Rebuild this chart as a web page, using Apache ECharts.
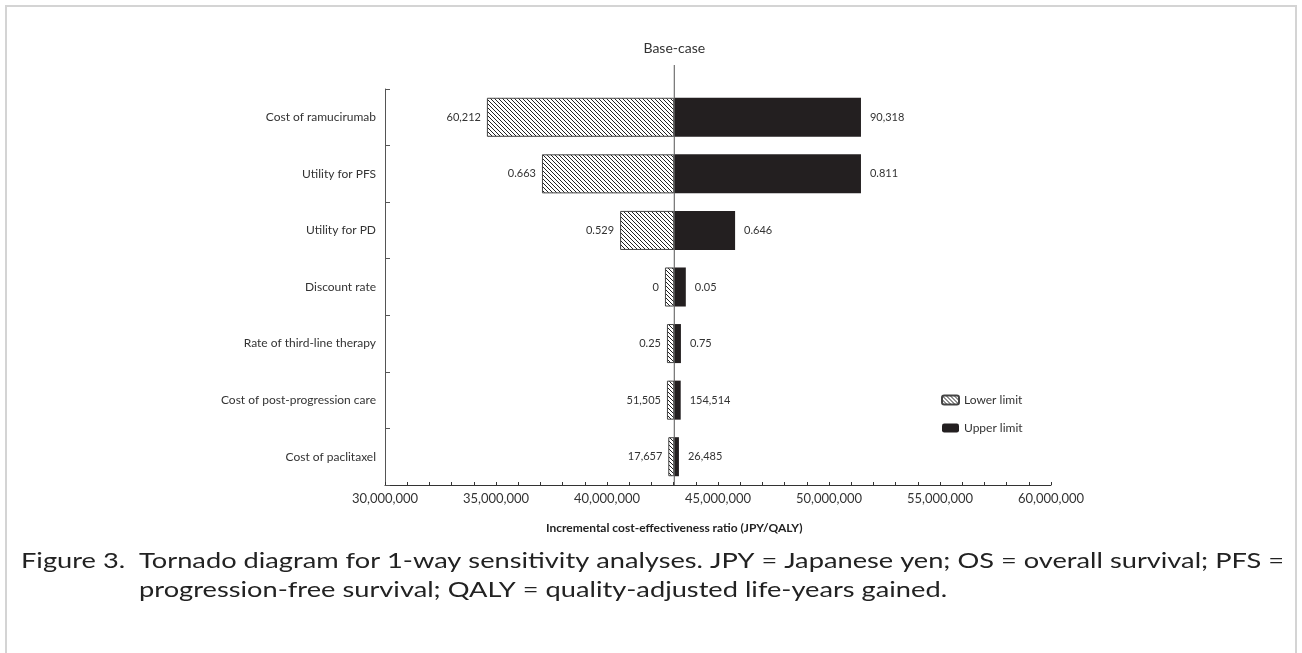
<!DOCTYPE html>
<html>
<head>
<meta charset="utf-8">
<script src="https://cdn.jsdelivr.net/npm/echarts@6/dist/echarts.min.js"></script>
<style>
  html, body { margin: 0; padding: 0; background: #fff; }
  #main { width: 1302px; height: 653px; }
</style>
</head>
<body>
<div id="main"></div>
<script>
// parameters, top to bottom
var categories = ['Cost of ramucirumab', 'Utility for PFS', 'Utility for PD', 'Discount rate',
	'Rate of third-line therapy', 'Cost of post-progression care', 'Cost of paclitaxel'];
// ICER (JPY/QALY) at lower / upper limit of each parameter
var lowIcer = [34590000, 37070000, 40590000, 42610000, 42700000, 42700000, 42760000];
var highIcer = [51440000, 51440000, 45770000, 43550000, 43330000, 43320000, 43240000];
var baseIcer = 43030000;
// parameter values printed next to the bars
var lowLabels = ['60,212', '0.663', '0.529', '0', '0.25', '51,505', '17,657'];
var highLabels = ['90,318', '0.811', '0.646', '0.05', '0.75', '154,514', '26,485'];
var xMin = 30000000, xMax = 60000000, xStep = 5000000;

var captionHead = 'Figure 3.  ';
var captionLine1 = 'Tornado diagram for 1-way sensitivity analyses. JPY = Japanese yen; OS = overall survival; PFS =';
var captionLine2 = 'progression-free survival; QALY = quality-adjusted life-years gained.';

var FONT = 'Lato';
var CAPTION_FONT = '22px ' + FONT;

function hatch() {
	var c = document.createElement('canvas');
	c.width = 4; c.height = 4;
	var ctx = c.getContext('2d');
	ctx.fillStyle = '#fff';
	ctx.fillRect(0, 0, 4, 4);
	ctx.strokeStyle = '#222';
	ctx.lineWidth = 1;
	ctx.beginPath();
	ctx.moveTo(-1, -1); ctx.lineTo(5, 5);
	ctx.moveTo(-1, 3); ctx.lineTo(1, 5);
	ctx.moveTo(3, -1); ctx.lineTo(5, 1);
	ctx.stroke();
	return c;
}

// caption font is wider than Lato: stretch it so line 1 runs to the right edge
var mctx = document.createElement('canvas').getContext('2d');
mctx.font = CAPTION_FONT;
var capLeft = 21, capRight = 1284;
var capScale = (capRight - capLeft) / mctx.measureText(captionHead + captionLine1).width;
var capIndent = capLeft + capScale * mctx.measureText(captionHead).width;

// stacked: hidden offset up to the low end, then low..base, then base..high
var offset = [], lowPart = [], highPart = [];
for (var i = 0; i < categories.length; i++) {
	offset[i] = lowIcer[i];
	lowPart[i] = baseIcer - lowIcer[i];
	highPart[i] = highIcer[i] - baseIcer;
}

var chart = echarts.init(document.getElementById('main'));
var option = {
	animation: false,
	textStyle: { fontFamily: FONT },
	grid: { left: 385, right: 251, top: 89, bottom: 168, containLabel: false },
	legend: {
		data: ['Lower limit', 'Upper limit'],
		orient: 'vertical',
		left: 936,
		top: 389,
		itemWidth: 17,
		itemHeight: 9,
		itemGap: 16,
		textStyle: { fontFamily: FONT, fontSize: 12, color: '#333' }
	},
	xAxis: {
		type: 'value',
		min: xMin,
		max: xMax,
		interval: xStep,
		axisLine: { show: true, lineStyle: { color: '#333', width: 1 } },
		axisTick: { show: true, inside: true, length: 3, lineStyle: { color: '#333' } },
		minorTick: { show: true, splitNumber: 5, length: 3, lineStyle: { color: '#333' } },
		splitLine: { show: false },
		axisLabel: {
			margin: 7,
			fontSize: 13,
			color: '#333',
			fontFamily: FONT,
			formatter: function (v) { return v.toLocaleString('en-US'); }
		}
	},
	yAxis: {
		type: 'category',
		inverse: true,
		data: categories,
		axisLine: { show: true, lineStyle: { color: '#555', width: 1 } },
		axisTick: { show: true, inside: true, length: 5, lineStyle: { color: '#555' } },
		axisLabel: { margin: 9, fontSize: 12, color: '#333', fontFamily: FONT }
	},
	series: [{
		name: 'offset',
		type: 'bar',
		stack: 'icer',
		data: offset,
		barCategoryGap: '31%',
		itemStyle: { color: 'transparent' },
		silent: true
	}, {
		name: 'Lower limit',
		type: 'bar',
		stack: 'icer',
		data: lowPart,
		itemStyle: { color: { image: hatch(), repeat: 'repeat' }, borderColor: '#444', borderWidth: 1 },
		label: {
			show: true,
			position: 'left',
			distance: 6,
			fontSize: 11,
			color: '#333',
			fontFamily: FONT,
			formatter: function (p) { return lowLabels[p.dataIndex]; }
		}
	}, {
		name: 'Upper limit',
		type: 'bar',
		stack: 'icer',
		data: highPart,
		itemStyle: { color: '#231f20' },
		label: {
			show: true,
			position: 'right',
			distance: 9,
			fontSize: 11,
			color: '#333',
			fontFamily: FONT,
			formatter: function (p) { return highLabels[p.dataIndex]; }
		}
	}]
};
chart.setOption(option);

var bx = chart.convertToPixel({ xAxisIndex: 0 }, baseIcer);

chart.setOption({
	graphic: [
		// frame
		{ type: 'line', shape: { x1: 6, y1: 6, x2: 1296, y2: 6 }, style: { stroke: '#d4d4d4', lineWidth: 2 } },
		{ type: 'line', shape: { x1: 6, y1: 5, x2: 6, y2: 653 }, style: { stroke: '#d4d4d4', lineWidth: 2 } },
		{ type: 'line', shape: { x1: 1296, y1: 5, x2: 1296, y2: 653 }, style: { stroke: '#d4d4d4', lineWidth: 2 } },
		// base-case line
		{ type: 'line', shape: { x1: bx, y1: 65, x2: bx, y2: 485 }, style: { stroke: '#555', lineWidth: 1 }, z: 10 },
		{
			type: 'text', x: bx, y: 48,
			style: { text: 'Base-case', fill: '#333', font: '14px ' + FONT, textAlign: 'center', textVerticalAlign: 'middle' }
		},
		{
			type: 'text', x: bx, y: 528,
			style: { text: 'Incremental cost-effectiveness ratio (JPY/QALY)', fill: '#222', font: 'bold 12px ' + FONT, textAlign: 'center', textVerticalAlign: 'middle' }
		},
		// caption
		{
			type: 'text', x: capLeft, y: 561, scaleX: capScale,
			style: { text: captionHead + captionLine1, fill: '#222', font: CAPTION_FONT, textVerticalAlign: 'middle' }
		},
		{
			type: 'text', x: capIndent, y: 590, scaleX: capScale,
			style: { text: captionLine2, fill: '#222', font: CAPTION_FONT, textVerticalAlign: 'middle' }
		}
	]
});
</script>
</body>
</html>
